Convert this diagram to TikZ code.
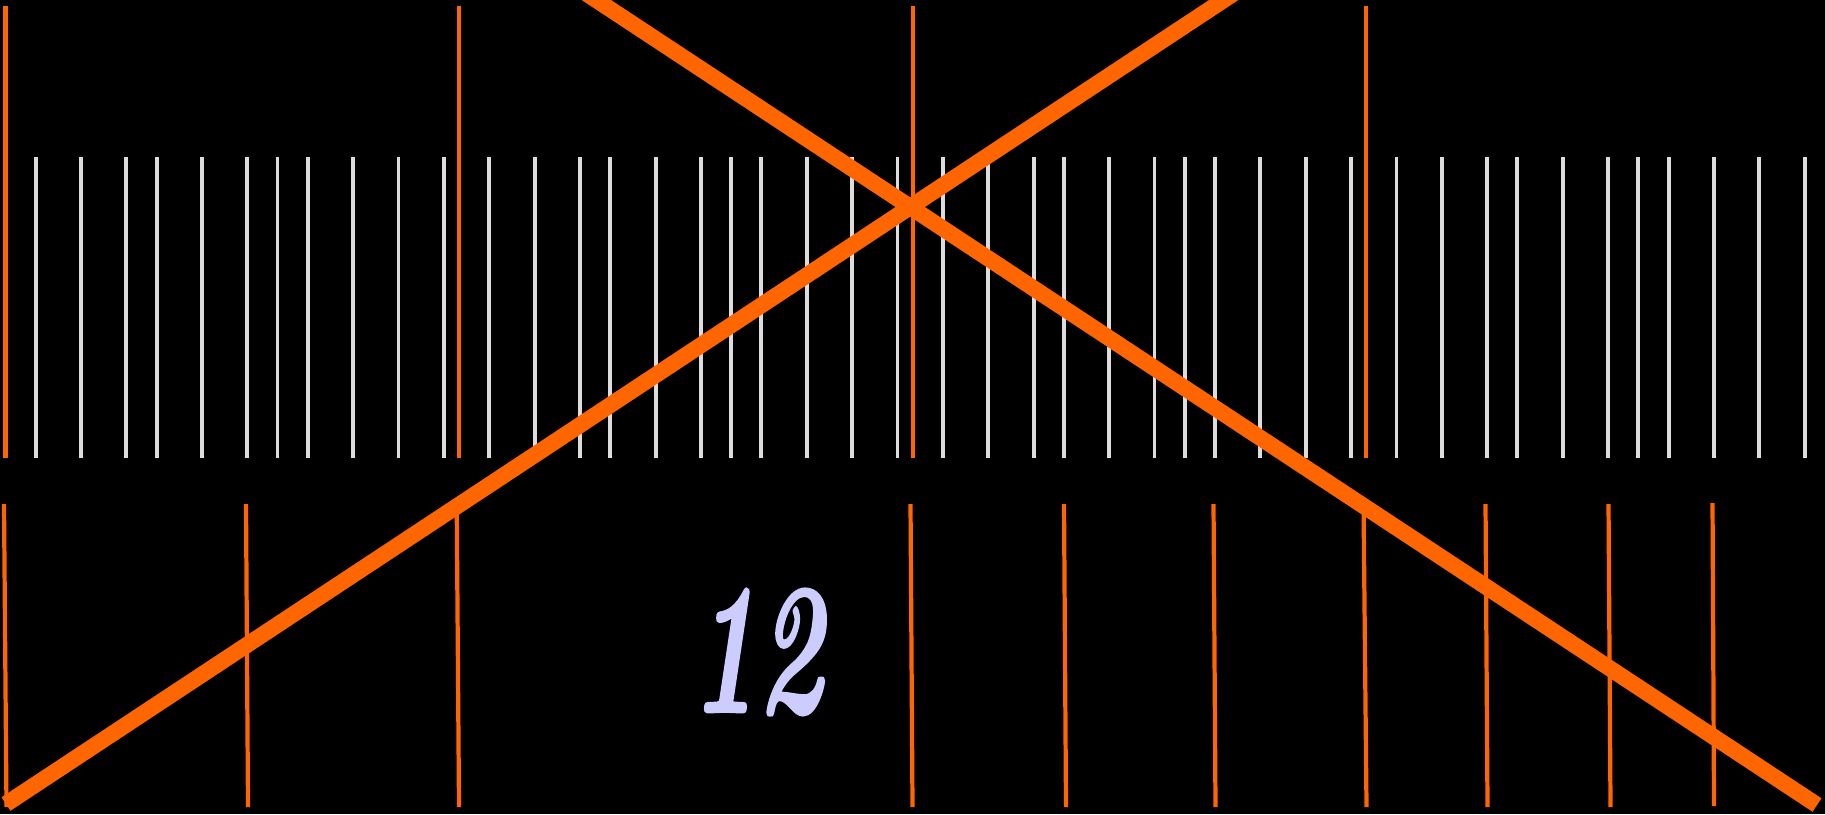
\documentclass[tikz,border=0pt]{standalone}
\usepackage{xcolor}
\usepackage{fontspec}
\newfontfamily\numfont{lmroman10-bolditalic.otf}[FakeBold=1.5]
\definecolor{barorange}{HTML}{FF6600}
\definecolor{ticklight}{HTML}{DDDDDD}
\definecolor{numlavender}{HTML}{CCCCFF}

\begin{document}
\begin{tikzpicture}[x=0.01cm, y=-0.01cm,
    tick/.style={draw=ticklight, line width=1.1pt},
    bar/.style={draw=barorange, line width=1.2pt},
    cross/.style={draw=barorange, line width=4.6pt},
    numeral/.style={text=numlavender, font=\numfont\fontsize{53}{53}\selectfont, inner sep=0pt}]

    \fill[black] (0,0) rectangle (1825,814);
    \useasboundingbox (0,0) rectangle (1825,814);
    \clip (0,0) rectangle (1825,814);

    % upper row: light ticks, orange bar every 30 steps
    \foreach \p in {0,30,60,90} {
        \foreach \k in {2,5,8,10,13,16,18,20,23,26,29}
            \draw [tick] ({5.4+(\p+\k)*15.12},157) -- ({5.4+(\p+\k)*15.12},458);
        \draw [bar] ({5.4+\p*15.12},5.5) -- ({5.4+\p*15.12},458);
    }

    % lower row: orange bars, slightly leaning
    \foreach \xa/\xb in {4/6.5, 246/248, 456.7/459, 910.5/912.5, 1064/1066,
                         1213.5/1215.5, 1363.5/1366.5, 1485.5/1487.5, 1608.5/1610.5}
        \draw [bar] (\xa,504) -- (\xb,807);
    \draw [bar] (1712.5,503) -- (1714,806);

    \node [numeral] (twelve) at (757,652) {\scalebox{0.6}[1]{12}};

    % the big cross, on top of everything
    \coordinate (lowleft) at (6,804);
    \coordinate (lowright) at (1817,805);
    \coordinate (topright) at (1254,-20);
    \coordinate (topleft) at (566,-20);
    \draw [cross] (lowleft) -- (topright);
    \draw [cross] (lowright) -- (topleft);
\end{tikzpicture}
\end{document}
